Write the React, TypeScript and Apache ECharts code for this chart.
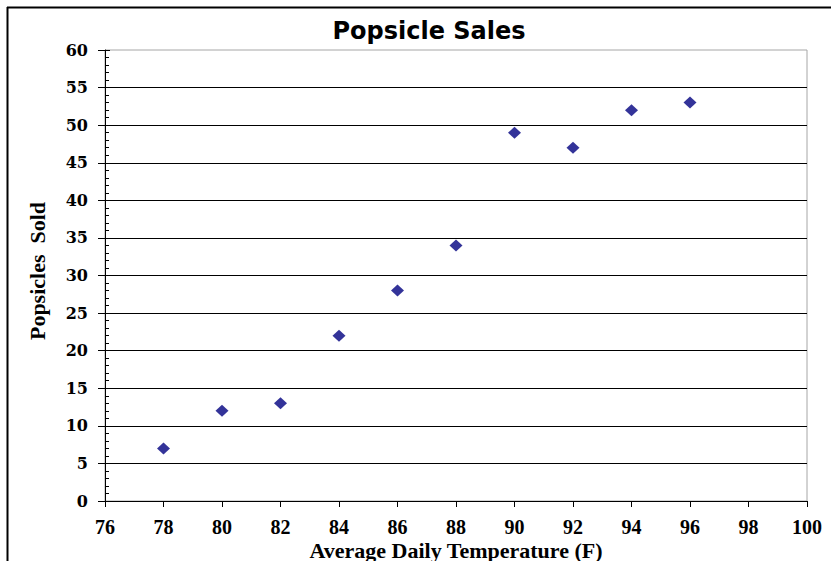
import React, { useEffect, useRef } from "react";
import * as echarts from "echarts";

const temperatures = [78, 80, 82, 84, 86, 88, 90, 92, 94, 96];
const popsiclesSold = [7, 12, 13, 22, 28, 34, 49, 47, 52, 53];

const titleText = "Popsicle Sales";
const xName = "Average Daily Temperature (F)";
const yName = "Popsicles  Sold";

export default function App() {
  const ref = useRef<HTMLDivElement>(null);
  useEffect(() => {
    if (!ref.current) return;
    const chart = echarts.init(ref.current, null, { renderer: "svg" });
    const serif = "'Liberation Serif', 'Times New Roman', serif";
    const wideSerif = "'DejaVu Serif', serif";
    const data = temperatures.map((t, i) => [t, popsiclesSold[i]]);
    chart.setOption({
      animation: false,
      backgroundColor: "#ffffff",
      title: {
        text: titleText,
        left: 424,
        top: 14,
        textAlign: "center",
        textStyle: {
          fontFamily: "'DejaVu Sans', sans-serif",
          fontWeight: "bold",
          fontSize: 24,
          color: "#000",
        },
      },
      grid: {
        left: 105,
        right: 24,
        top: 50,
        bottom: 60,
        show: true,
        borderColor: "#a6a6a6",
        borderWidth: 1,
        backgroundColor: "transparent",
        containLabel: false,
        outerBoundsMode: "none",
      },
      xAxis: {
        type: "value",
        min: 76,
        max: 100,
        interval: 2,
        name: xName,
        nameLocation: "middle",
        nameGap: 38,
        nameMoveOverlap: false,
        nameTextStyle: { fontFamily: serif, fontWeight: "bold", fontSize: 22, lineHeight: 22, color: "#000" },
        axisLine: { show: true, lineStyle: { color: "#000", width: 1 } },
        axisTick: { show: true, length: 6, lineStyle: { color: "#000" } },
        axisLabel: { margin: 16, fontFamily: serif, fontWeight: "bold", fontSize: 20, lineHeight: 20, color: "#000" },
        splitLine: { show: false },
      },
      yAxis: [
        {
          type: "value",
          min: 0,
          max: 60,
          interval: 5,
          name: yName,
          nameLocation: "middle",
          nameGap: 57,
          nameRotate: 90,
          nameMoveOverlap: false,
          nameTextStyle: {
            fontFamily: serif,
            fontWeight: "bold",
            fontSize: 22,
            color: "#000",
            padding: [0, 0, 0, 9],
          },
          axisLine: { show: true, lineStyle: { color: "#000", width: 1 } },
          axisTick: { show: true, length: 7, lineStyle: { color: "#000" } },
          axisLabel: { margin: 17, fontFamily: wideSerif, fontWeight: "bold", fontSize: 16, color: "#000" },
          splitLine: { show: true, showMaxLine: false, lineStyle: { color: "#000", width: 1 } },
        },
        {
          type: "value",
          min: 0,
          max: 60,
          interval: 5,
          position: "left",
          offset: 0,
          axisLine: { show: false },
          axisTick: { show: true, inside: true, length: 5, lineStyle: { color: "#000" } },
          axisLabel: { show: false },
          splitLine: { show: false },
          minorTick: { show: true, splitNumber: 5, length: 4, lineStyle: { color: "#000" } },
        },
      ],
      series: [
        {
          type: "scatter",
          data,
          symbol: "diamond",
          symbolSize: [13, 12],
          itemStyle: { color: "#000080" },
        },
      ],
      graphic: [
        { type: "line", shape: { x1: 7, y1: 7.5, x2: 831, y2: 7.5 }, style: { stroke: "#000", lineWidth: 2 } },
        { type: "line", shape: { x1: 7.5, y1: 7, x2: 7.5, y2: 561 }, style: { stroke: "#000", lineWidth: 2 } },
      ],
    });
    return () => chart.dispose();
  }, []);
  return (
    <div
      ref={ref}
      style={{ position: "fixed", left: 0, top: 0, width: 831, height: 561 }}
    />
  );
}
